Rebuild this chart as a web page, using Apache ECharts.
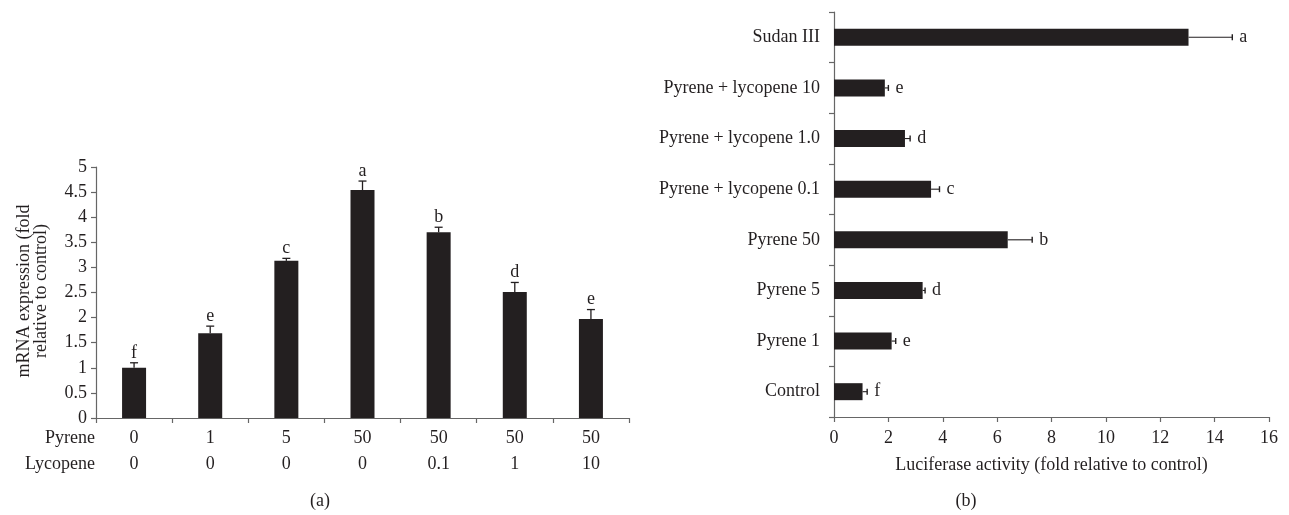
<!DOCTYPE html>
<html>
<head>
<meta charset="utf-8">
<script src="https://cdn.jsdelivr.net/npm/echarts@6/dist/echarts.min.js"></script>
<style>
html,body{margin:0;padding:0;background:#fff;}
#chart{width:1289px;height:515px;}
</style>
</head>
<body>
<div id="chart"></div>
<script>
// ---- Panel (a) data ----
const pyreneDose = ['0', '1', '5', '50', '50', '50', '50'];
const lycopeneDose = ['0', '0', '0', '0', '0.1', '1', '10'];
const mrnaValues = [1.0, 1.69, 3.13, 4.54, 3.70, 2.51, 1.97];
const mrnaErrTop = [1.10, 1.83, 3.18, 4.72, 3.80, 2.70, 2.16];
const mrnaLetters = ['f', 'e', 'c', 'a', 'b', 'd', 'e'];
const mrnaTicks = ['0', '0.5', '1', '1.5', '2', '2.5', '3', '3.5', '4', '4.5', '5'];

// ---- Panel (b) data (bottom to top) ----
const lucCategories = ['Control', 'Pyrene 1', 'Pyrene 5', 'Pyrene 50',
  'Pyrene + lycopene 0.1', 'Pyrene + lycopene 1.0', 'Pyrene + lycopene 10', 'Sudan III'];
const lucValues = [1.05, 2.12, 3.26, 6.39, 3.57, 2.61, 1.87, 13.04];
const lucErrEnd = [1.22, 2.27, 3.35, 7.29, 3.88, 2.80, 2.0, 14.65];
const lucLetters = ['f', 'e', 'd', 'b', 'c', 'd', 'e', 'a'];

const FONT = '"Liberation Serif", "DejaVu Serif", serif';
const INK = '#231f20';
const AXIS = '#666666';
const FS = 18;

const chart = echarts.init(document.getElementById('chart'), null, {renderer: 'canvas'});

const option = {
  animation: false,
  backgroundColor: '#fff',
  textStyle: {fontFamily: FONT, color: INK},
  grid: [
    {left: 96, top: 167, width: 533, height: 251},
    {left: 834, top: 12, width: 435, height: 405}
  ],
  xAxis: [
    {
      gridIndex: 0, type: 'category', data: pyreneDose,
      axisLine: {lineStyle: {color: AXIS, width: 1.2}},
      axisTick: {show: true, length: 5, inside: false, lineStyle: {color: AXIS, width: 1.2}},
      axisLabel: {
        fontFamily: FONT, fontSize: FS, color: INK, margin: 7, lineHeight: 26,
        formatter: (v, i) => v + '\n' + lycopeneDose[i]
      },
      splitLine: {show: false}
    },
    {
      gridIndex: 1, type: 'value', min: 0, max: 16, interval: 2,
      axisLine: {show: true, lineStyle: {color: AXIS, width: 1.2}},
      axisTick: {show: true, length: 5, lineStyle: {color: AXIS, width: 1.2}},
      axisLabel: {fontFamily: FONT, fontSize: FS, color: INK, margin: 12},
      splitLine: {show: false},
      name: 'Luciferase activity (fold relative to control)',
      nameLocation: 'middle', nameGap: 39,
      nameTextStyle: {fontFamily: FONT, fontSize: FS, color: INK}
    }
  ],
  yAxis: [
    {
      gridIndex: 0, type: 'value', min: 0, max: 5, interval: 0.5,
      axisLine: {show: true, lineStyle: {color: AXIS, width: 1.2}},
      axisTick: {show: true, length: 5, lineStyle: {color: AXIS, width: 1.2}},
      axisLabel: {fontFamily: FONT, fontSize: FS, color: INK, margin: 9,
        formatter: (v) => mrnaTicks[Math.round(v * 2)]},
      splitLine: {show: false}
    },
    {
      gridIndex: 1, type: 'category', data: lucCategories,
      axisLine: {show: true, lineStyle: {color: AXIS, width: 1.2}},
      axisTick: {show: true, length: 5, lineStyle: {color: AXIS, width: 1.2}},
      axisLabel: {fontFamily: FONT, fontSize: FS, color: INK, margin: 14},
      splitLine: {show: false}
    }
  ],
  series: [
    {
      type: 'bar', xAxisIndex: 0, yAxisIndex: 0, data: mrnaValues,
      barWidth: 24, itemStyle: {color: INK}, z: 2
    },
    {
      type: 'custom', xAxisIndex: 0, yAxisIndex: 0,
      data: mrnaValues.map((v, i) => [i, v, mrnaErrTop[i]]),
      renderItem: function (params, api) {
        const base = api.coord([api.value(0), api.value(1)]);
        const top = api.coord([api.value(0), api.value(2)]);
        const i = params.dataIndex;
        const cap = 4;
        return {
          type: 'group',
          children: [
            {type: 'line', shape: {x1: base[0], y1: base[1], x2: top[0], y2: top[1]},
              style: {stroke: INK, lineWidth: 1.3}},
            {type: 'line', shape: {x1: top[0] - cap, y1: top[1], x2: top[0] + cap, y2: top[1]},
              style: {stroke: INK, lineWidth: 1.3}},
            {type: 'text', x: top[0], y: top[1] - 1,
              style: {text: mrnaLetters[i], fontFamily: FONT, fontSize: FS, fill: INK,
                textAlign: 'center', textVerticalAlign: 'bottom'}}
          ]
        };
      },
      z: 3
    },
    {
      type: 'bar', xAxisIndex: 1, yAxisIndex: 1, data: lucValues,
      barWidth: 17, itemStyle: {color: INK}, z: 2
    },
    {
      type: 'custom', xAxisIndex: 1, yAxisIndex: 1,
      data: lucValues.map((v, i) => [v, i, lucErrEnd[i]]),
      renderItem: function (params, api) {
        const base = api.coord([api.value(0), api.value(1)]);
        const end = api.coord([api.value(2), api.value(1)]);
        const i = params.dataIndex;
        const cap = 3;
        return {
          type: 'group',
          children: [
            {type: 'line', shape: {x1: base[0], y1: base[1], x2: end[0], y2: end[1]},
              style: {stroke: INK, lineWidth: 1.1}},
            {type: 'line', shape: {x1: end[0], y1: end[1] - cap, x2: end[0], y2: end[1] + cap},
              style: {stroke: INK, lineWidth: 1.4}},
            {type: 'text', x: end[0] + 7, y: end[1],
              style: {text: lucLetters[i], fontFamily: FONT, fontSize: FS, fill: INK,
                textAlign: 'left', textVerticalAlign: 'middle'}}
          ]
        };
      },
      z: 3
    }
  ],
  graphic: [
    {type: 'text', x: 33, y: 291, rotation: Math.PI / 2,
      style: {text: 'mRNA expression (fold\nrelative to control)', fontFamily: FONT, fontSize: FS,
        fill: INK, textAlign: 'center', textVerticalAlign: 'middle', lineHeight: 17}},
    {type: 'text', x: 95, y: 438,
      style: {text: 'Pyrene', fontFamily: FONT, fontSize: FS, fill: INK,
        textAlign: 'right', textVerticalAlign: 'middle'}},
    {type: 'text', x: 95, y: 464,
      style: {text: 'Lycopene', fontFamily: FONT, fontSize: FS, fill: INK,
        textAlign: 'right', textVerticalAlign: 'middle'}},
    {type: 'text', x: 320, y: 501,
      style: {text: '(a)', fontFamily: FONT, fontSize: FS, fill: INK,
        textAlign: 'center', textVerticalAlign: 'middle'}},
    {type: 'text', x: 966, y: 501,
      style: {text: '(b)', fontFamily: FONT, fontSize: FS, fill: INK,
        textAlign: 'center', textVerticalAlign: 'middle'}}
  ]
};
chart.setOption(option);
</script>
</body>
</html>
